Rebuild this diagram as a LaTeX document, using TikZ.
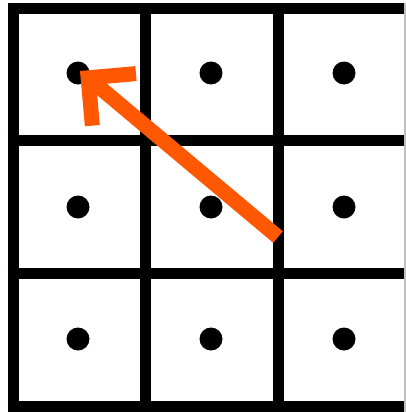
\documentclass[tikz,border=0pt]{standalone}
\usetikzlibrary{arrows.meta}

\definecolor{pointerorange}{RGB}{255,88,0}

\tikzset{
  gridline/.style={line width=11pt},
  dot/.style={circle, fill=black, inner sep=0pt, minimum size=23pt},
  pointer/.style={pointerorange, line width=15pt,
    -{Straight Barb[angle=90:48pt, line width=15pt]}}
}

\begin{document}
\begin{tikzpicture}[x=1pt, y=-1pt]
    \useasboundingbox (0,0) rectangle (406,412);
    \clip (0,0) rectangle (406,412);

    % Grid
    \foreach \y in {9,140,273,406}
    {
      \draw[gridline] (7.5,\y) -- (404.5,\y);
    }
    \foreach \x in {13,145,278}
    {
      \draw[gridline] (\x,3.5) -- (\x,411.5);
    }
    \draw[gray!50, line width=1.5pt] (405,3.5) -- (405,411.5);

    % Cell centres
    \foreach \x/\i in {78/1,211/2,344/3}
      \foreach \y/\j in {73/1,207/2,339/3}
      {
        \node[dot] (d\i\j) at (\x,\y) {};
      }

    % Arrow
    \coordinate (tail) at (278,237);
    \coordinate (head) at (80,71);
    \draw[pointer] (tail) -- (head);
  \end{tikzpicture}
\end{document}
